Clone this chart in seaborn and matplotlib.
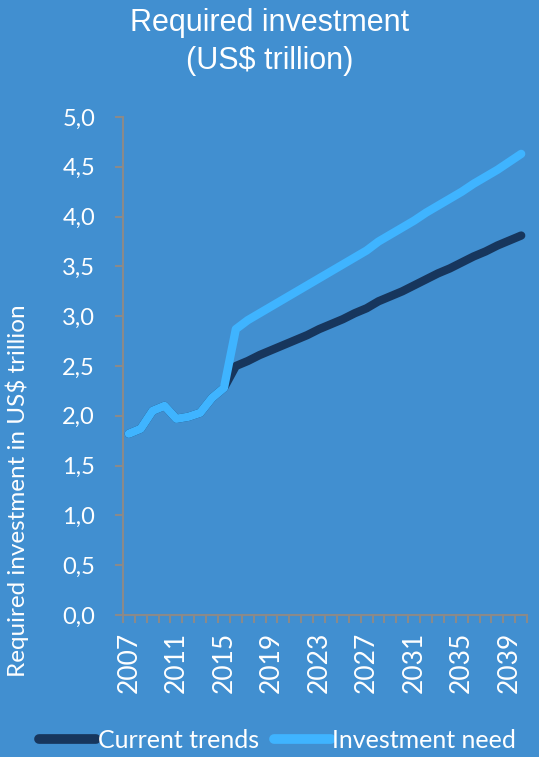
import matplotlib
matplotlib.use("Agg")
import matplotlib.pyplot as plt
from matplotlib.lines import Line2D
from matplotlib.ticker import FixedLocator, FuncFormatter
import pandas as pd
import seaborn as sns

# Historical values shared by both scenarios (2007-2015)
history = [1.82, 1.87, 2.05, 2.10, 1.97, 1.99, 2.03, 2.18, 2.28]
# Projections 2016-2040
current_trends = [2.50, 2.55, 2.61, 2.66, 2.71, 2.76, 2.81, 2.87, 2.92, 2.97,
                  3.03, 3.08, 3.15, 3.20, 3.25, 3.31, 3.37, 3.43, 3.48, 3.54,
                  3.60, 3.65, 3.71, 3.76, 3.81]
investment_need = [2.87, 2.96, 3.03, 3.10, 3.17, 3.24, 3.31, 3.38, 3.45, 3.52,
                   3.59, 3.66, 3.75, 3.82, 3.89, 3.96, 4.04, 4.11, 4.18, 4.25,
                   4.33, 4.40, 4.47, 4.55, 4.63]
years = list(range(2007, 2041))
year_labels = [2007, 2011, 2015, 2019, 2023, 2027, 2031, 2035, 2039]
y_ticks = [0.0, 0.5, 1.0, 1.5, 2.0, 2.5, 3.0, 3.5, 4.0, 4.5, 5.0]
series_names = ["Current trends", "Investment need"]

BG = "#418fd0"
DARK = "#17365d"
LIGHT = "#3fb4ff"
AXIS = "#8a8a8a"

df = pd.DataFrame({
    "year": years * 2,
    "value": history + current_trends + history + investment_need,
    "series": [series_names[0]] * len(years) + [series_names[1]] * len(years),
})

sns.set_theme(style="white")
plt.rcParams["font.family"] = ["Lato", "DejaVu Sans"]

fig = plt.figure(figsize=(5.39, 7.57), dpi=100, facecolor=BG)
ax = fig.add_axes([0.228, 0.1876, 0.750, 0.6578])
ax.set_facecolor(BG)

sns.lineplot(data=df, x="year", y="value", hue="series",
             palette={series_names[0]: DARK, series_names[1]: LIGHT},
             linewidth=6, legend=False, ax=ax,
             solid_capstyle="round", solid_joinstyle="round")

ax.set_xlim(2006.5, 2040.5)
ax.set_ylim(0, 5.0)

for s in ["top", "right"]:
    ax.spines[s].set_visible(False)
for s in ["left", "bottom"]:
    ax.spines[s].set_color(AXIS)
    ax.spines[s].set_linewidth(1.5)

ax.yaxis.set_major_locator(FixedLocator(y_ticks))
ax.yaxis.set_major_formatter(FuncFormatter(lambda v, p: f"{v:.1f}".replace(".", ",")))
ax.tick_params(axis="y", which="major", direction="out", length=6, width=1.5,
               color=AXIS, labelcolor="white", labelsize=17, pad=14, left=True)

ax.xaxis.set_major_locator(FixedLocator(year_labels))
ax.xaxis.set_major_formatter(FuncFormatter(lambda v, p: f"{int(v)}"))
ax.xaxis.set_minor_locator(FixedLocator([y - 0.5 for y in years] + [2040.5]))
ax.tick_params(axis="x", which="major", length=0, labelcolor="white",
               labelsize=19, labelrotation=90, pad=12)
ax.tick_params(axis="x", which="minor", direction="out", length=6, width=1.5,
               color=AXIS, bottom=True)

ax.set_xlabel("")
ax.set_ylabel("")
ax.grid(False)

fig.text(0.5, 0.990, "Required investment\n(US$ trillion)", ha="center", va="top",
         color="white", fontsize=22, family=["Liberation Sans", "DejaVu Sans"],
         linespacing=1.38)
fig.text(0.032, 0.352, "Required investment in US$ trillion", rotation=90,
         ha="center", va="center", color="white", fontsize=17.5)

handles = [Line2D([], [], color=DARK, lw=7, solid_capstyle="round"),
           Line2D([], [], color=LIGHT, lw=7, solid_capstyle="round")]
fig.legend(handles, series_names, loc="center", bbox_to_anchor=(0.515, 0.022),
           ncol=2, frameon=False, fontsize=18, labelcolor="white",
           handlelength=2.3, handletextpad=0.05, columnspacing=0.6)

fig.savefig("out.png", dpi=100, facecolor=BG)
